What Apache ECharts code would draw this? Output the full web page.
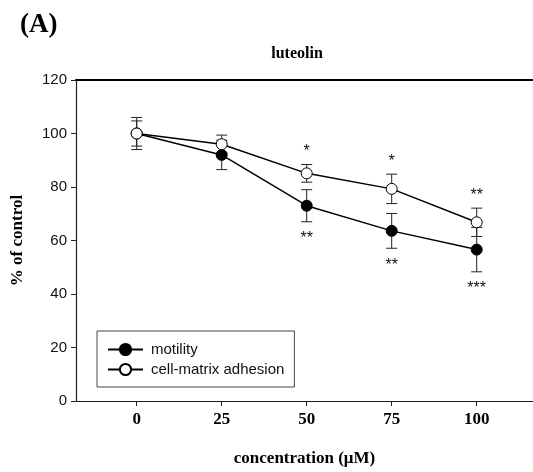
<!DOCTYPE html>
<html>
<head>
<meta charset="utf-8">
<script src="https://cdn.jsdelivr.net/npm/echarts@6/dist/echarts.min.js"></script>
<style>html,body{margin:0;padding:0;background:#fff}#c{width:533px;height:472px}</style>
</head>
<body>
<div id="c"></div>
<script>
const categories = [0, 25, 50, 75, 100];
const motility = [100, 92, 73, 63.6, 56.6];
const motilitySD = [6, 5.5, 6, 6.5, 8.3];
const adhesion = [100, 96, 85.1, 79.3, 66.8];
const adhesionSD = [4.7, 3.4, 3.3, 5.5, 5.3];
const motilityStars = ['', '', '**', '**', '***'];
const adhesionStars = ['', '', '*', '*', '**'];
const yTicks = [0, 20, 40, 60, 80, 100, 120];

const chart = echarts.init(document.getElementById('c'));
const serif = 'Liberation Serif';
const sans = 'Liberation Sans';

function errRender(params, api) {
  const x = api.value(0), m = api.value(1), s = api.value(2);
  const top = api.coord([x, m + s]), bot = api.coord([x, m - s]);
  const hw = 5.5;
  const st = { stroke: '#222', lineWidth: 1 };
  return { type: 'group', children: [
    { type: 'line', shape: { x1: top[0], y1: top[1], x2: bot[0], y2: bot[1] }, style: st },
    { type: 'line', shape: { x1: top[0] - hw, y1: top[1], x2: top[0] + hw, y2: top[1] }, style: st },
    { type: 'line', shape: { x1: bot[0] - hw, y1: bot[1], x2: bot[0] + hw, y2: bot[1] }, style: st }
  ]};
}
const starData = [];
categories.forEach((c, i) => {
  if (adhesionStars[i]) starData.push([c, adhesion[i] + adhesionSD[i], adhesionStars[i], 1]);
  if (motilityStars[i]) starData.push([c, motility[i] - motilitySD[i], motilityStars[i], -1]);
});
function starRender(params, api) {
  const x = api.value(0), v = api.value(1), dir = api.value(3);
  const p = api.coord([x, v]);
  const txt = starData[params.dataIndex][2];
  return { type: 'text', style: { x: p[0], y: p[1] + (dir > 0 ? -13 : 17), text: txt,
    font: '16px "' + sans + '"', fill: '#111', align: 'center', verticalAlign: 'middle' } };
}
const errData = [];
categories.forEach((c, i) => {
  errData.push([c, motility[i], motilitySD[i]]);
  errData.push([c, adhesion[i], adhesionSD[i]]);
});

chart.setOption({
  animation: false,
  backgroundColor: '#fff',
  grid: { left: 76, top: 80, width: 457, height: 322, show: false },
  graphic: [
    { type: 'text', left: 20, top: 12, style: { text: '(A)', font: 'bold 27px "' + serif + '"', fill: '#000' } },
    { type: 'text', x: 297, y: 54, style: { text: 'luteolin', font: 'bold 16px "' + serif + '"', fill: '#000', align: 'center', verticalAlign: 'middle' } }
  ],
  legend: {
    orient: 'vertical', left: 97, top: 331,
    data: ['motility', 'cell-matrix adhesion'],
    itemWidth: 35, itemHeight: 14, itemGap: 5,
    padding: [11, 10, 10, 10],
    borderColor: '#444', borderWidth: 1, backgroundColor: '#fff',
    textStyle: { fontFamily: sans, fontSize: 15, color: '#111', padding: [0, 0, 0, 3] }
  },
  xAxis: [{
    type: 'value', min: -17.85, max: 116.56, position: 'bottom',
    splitLine: { show: false },
    axisLine: { onZero: false, lineStyle: { color: '#222', width: 1.2 } },
    axisTick: { customValues: categories, length: 5, lineStyle: { color: '#222' } },
    axisLabel: { customValues: categories, margin: 10, fontFamily: serif, fontWeight: 'bold', fontSize: 17, color: '#000' },
    name: 'concentration (μM)', nameLocation: 'middle', nameGap: 49,
    nameTextStyle: { fontFamily: serif, fontWeight: 'bold', fontSize: 17, color: '#000' }
  }, {
    type: 'value', min: -17.85, max: 116.56, position: 'top',
    splitLine: { show: false }, axisTick: { show: false }, axisLabel: { show: false },
    axisLine: { onZero: false, lineStyle: { color: '#000', width: 2 } }
  }],
  yAxis: {
    type: 'value', min: 0, max: 120, interval: 20, position: 'left',
    splitLine: { show: false },
    axisLine: { show: true, onZero: false, lineStyle: { color: '#222', width: 1.2 } },
    axisTick: { show: true, length: 5, lineStyle: { color: '#222' } },
    axisLabel: { margin: 9, fontFamily: sans, fontSize: 15, color: '#111' },
    name: '% of control', nameLocation: 'middle', nameGap: 50,
    nameTextStyle: { fontFamily: serif, fontWeight: 'bold', fontSize: 17, color: '#000' }
  },
  series: [
    { type: 'custom', name: 'err', renderItem: errRender, data: errData, encode: { x: 0, y: 1 }, z: 1, silent: true },
    { type: 'custom', name: 'stars', renderItem: starRender, data: starData.map(d => [d[0], d[1], 0, d[3]]), encode: { x: 0, y: 1 }, z: 1, silent: true },
    { type: 'line', name: 'motility', data: categories.map((c, i) => [c, motility[i]]),
      symbol: 'circle', symbolSize: 11, showAllSymbol: true,
      lineStyle: { color: '#000', width: 1.5 },
      itemStyle: { color: '#000', borderColor: '#000', borderWidth: 1 }, z: 2 },
    { type: 'line', name: 'cell-matrix adhesion', data: categories.map((c, i) => [c, adhesion[i]]),
      symbol: 'circle', symbolSize: 11, showAllSymbol: true,
      lineStyle: { color: '#000', width: 1.5 },
      itemStyle: { color: '#fff', borderColor: '#000', borderWidth: 1 }, z: 3 }
  ]
});
</script>
</body>
</html>
